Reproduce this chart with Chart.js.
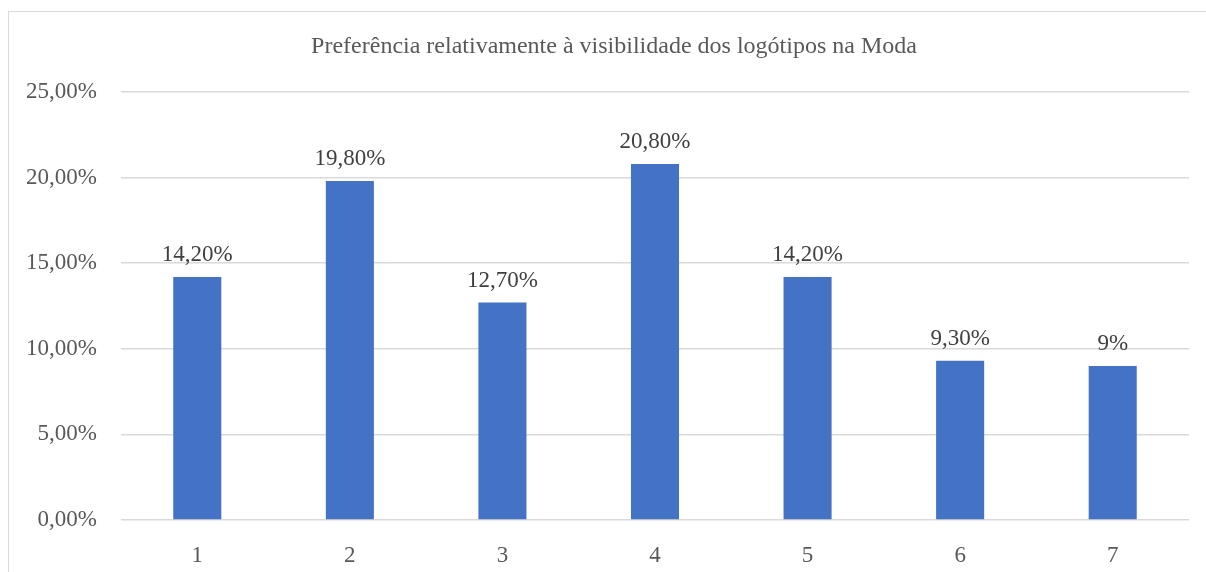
<!DOCTYPE html>
<html>
<head>
<meta charset="utf-8">
<script src="https://cdn.jsdelivr.net/npm/chart.js@4/dist/chart.umd.min.js"></script>
<style>
    html, body {
        margin: 0;
        padding: 0;
        background: #ffffff;
        overflow: hidden;
    }
    #box {
        position: absolute;
        left: 8px;
        top: 11px;
        width: 1210px;
        height: 600px;
        border: 1px solid #d9d9d9;
        background: #ffffff;
    }
    #chart {
        display: block;
    }
</style>
</head>
<body>
<div id="box">
    <canvas id="chart" width="1210" height="600"></canvas>
</div>
<script>
const chartTitle = "Preferência relativamente à visibilidade dos logótipos na Moda";
const categories = ["1", "2", "3", "4", "5", "6", "7"];
const values = [14.2, 19.8, 12.7, 20.8, 14.2, 9.3, 9];
const valueLabels = ["14,20%", "19,80%", "12,70%", "20,80%", "14,20%", "9,30%", "9%"];
const yTicks = [0, 5, 10, 15, 20, 25];

const textColor = "#595959";
const serif = "'Liberation Serif', 'Times New Roman', serif";

// title is centred on the whole box, not on the plot, so draw it here
const boxTitle = {
    id: "boxTitle",
    afterDraw(chart) {
        const ctx = chart.ctx;
        ctx.save();
        ctx.font = "24px " + serif;
        ctx.fillStyle = textColor;
        ctx.textAlign = "center";
        ctx.textBaseline = "middle";
        ctx.fillText(chartTitle, chart.width / 2, 35);
        ctx.restore();
    }
};

const barLabels = {
    id: "barLabels",
    afterDatasetsDraw(chart) {
        const ctx = chart.ctx;
        const meta = chart.getDatasetMeta(0);
        ctx.save();
        ctx.font = "23px " + serif;
        ctx.fillStyle = "#404040";
        ctx.textAlign = "center";
        ctx.textBaseline = "alphabetic";
        meta.data.forEach((bar, i) => {
            ctx.fillText(valueLabels[i], bar.x, bar.y - 16);
        });
        ctx.restore();
    }
};

const ctx = document.getElementById("chart");

new Chart(ctx, {
    type: "bar",
    data: {
        labels: categories,
        datasets: [{
            data: values,
            backgroundColor: "#4472c4",
            barPercentage: 0.315,
            categoryPercentage: 1
        }]
    },
    options: {
        responsive: false,
        animation: false,
        layout: {
            padding: { left: 0, right: 30, top: 80, bottom: 0 }
        },
        plugins: {
            legend: { display: false },
            tooltip: { enabled: false },
            title: { display: false }
        },
        scales: {
            x: {
                grid: { display: false },
                border: { display: false },
                ticks: {
                    color: textColor,
                    font: { family: serif, size: 23 },
                    padding: 14
                },
                afterFit(scale) {
                    scale.height = 92;
                }
            },
            y: {
                min: 0,
                max: 25,
                afterBuildTicks(scale) {
                    scale.ticks = yTicks.map(v => ({ value: v }));
                },
                grid: {
                    color: "#d9d9d9",
                    lineWidth: 1.5,
                    drawTicks: false
                },
                border: { display: false },
                ticks: {
                    color: textColor,
                    font: { family: serif, size: 23 },
                    padding: 24,
                    callback: v => v.toFixed(2).replace(".", ",") + "%"
                },
                afterFit(scale) {
                    scale.width = 112;
                }
            }
        }
    },
    plugins: [barLabels, boxTitle]
});
</script>
</body>
</html>
